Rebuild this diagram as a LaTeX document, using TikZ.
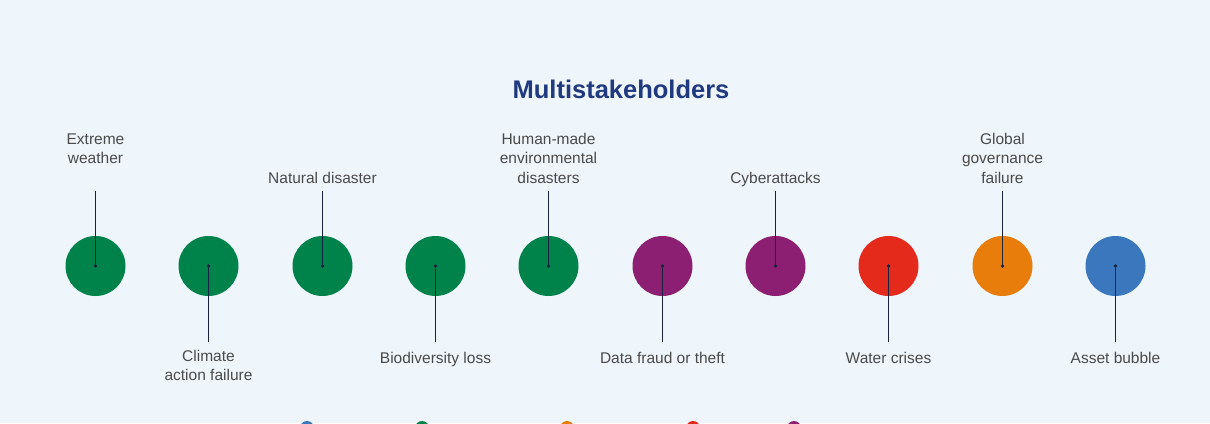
\documentclass[tikz,border=0pt]{standalone}
\usepackage{fontspec}
\setmainfont{Liberation Sans}
\usepackage{tikz}

\definecolor{bgblue}{HTML}{EEF5FB}
\definecolor{riskgreen}{HTML}{00834B}
\definecolor{riskpurple}{HTML}{8C1F71}
\definecolor{riskred}{HTML}{E42A1B}
\definecolor{riskorange}{HTML}{E87D0B}
\definecolor{riskblue}{HTML}{3A77BC}
\definecolor{titleblue}{HTML}{213A7F}
\definecolor{labelgray}{HTML}{4A4A4A}
\definecolor{pinline}{HTML}{1A2440}

\tikzset{
    risk/.style={circle, fill=#1, minimum size=60pt, inner sep=0pt},
    legenddot/.style={circle, fill=#1, minimum size=14pt, inner sep=0pt},
    lbl/.style={align=center, inner sep=0pt, text=labelgray,
        font=\fontsize{15.5}{19.7}\selectfont,
        execute at begin node=\strut, execute at end node=\strut},
    toplbl/.style={lbl, anchor=south, outer ysep=1.6pt},
    botlbl/.style={lbl, anchor=north, outer ysep=8pt},
    pin/.style={pinline, line width=1.2pt}
}

\begin{document}
\begin{tikzpicture}[x=1pt, y=-1pt]
            \useasboundingbox[fill=bgblue] (0,0) rectangle (1210,423);

            \node[text=titleblue, font=\fontsize{25.5}{30}\selectfont\bfseries] (title) at (621,89) {Multistakeholders};

            % risks
            \node[risk=riskgreen] (ew) at (95.5,266) {};
            \node[risk=riskgreen] (caf) at (208.5,266) {};
            \node[risk=riskgreen] (nd) at (322.5,266) {};
            \node[risk=riskgreen] (bl) at (435.5,266) {};
            \node[risk=riskgreen] (hmd) at (548.5,266) {};
            \node[risk=riskpurple] (dft) at (662.5,266) {};
            \node[risk=riskpurple] (ca) at (775.5,266) {};
            \node[risk=riskred] (wc) at (888.5,266) {};
            \node[risk=riskorange] (ggf) at (1002.5,266) {};
            \node[risk=riskblue] (ab) at (1115.5,266) {};

            % labels
            \node[toplbl] (ew-l) at (95.5,171.5) {Extreme\\weather};
            \coordinate (ew-top) at (95.5,191);
            \node[botlbl] (caf-l) at (208.5,342) {Climate\\action failure};
            \node[toplbl] (nd-l) at (322.5,191) {Natural disaster};
            \node[botlbl] (bl-l) at (435.5,342) {Biodiversity loss};
            \node[toplbl] (hmd-l) at (548.5,191) {Human-made\\environmental\\disasters};
            \node[botlbl] (dft-l) at (662.5,342) {Data fraud or theft};
            \node[toplbl] (ca-l) at (775.5,191) {Cyberattacks};
            \node[botlbl] (wc-l) at (888.5,342) {Water crises};
            \node[toplbl] (ggf-l) at (1002.5,191) {Global\\governance\\failure};
            \node[botlbl] (ab-l) at (1115.5,342) {Asset bubble};

            \draw[pin] (ew.center) -- (ew-top);
            \draw[pin] (caf.center) -- (caf-l);
            \draw[pin] (nd.center) -- (nd-l);
            \draw[pin] (bl.center) -- (bl-l);
            \draw[pin] (hmd.center) -- (hmd-l);
            \draw[pin] (dft.center) -- (dft-l);
            \draw[pin] (ca.center) -- (ca-l);
            \draw[pin] (wc.center) -- (wc-l);
            \draw[pin] (ggf.center) -- (ggf-l);
            \draw[pin] (ab.center) -- (ab-l);

            \fill[pinline] (ew) circle (1.9) (caf) circle (1.9) (nd) circle (1.9) (bl) circle (1.9) (hmd) circle (1.9);
            \fill[pinline] (dft) circle (1.9) (ca) circle (1.9) (wc) circle (1.9) (ggf) circle (1.9) (ab) circle (1.9);

            % legend, cut off at the bottom
            \node[legenddot=riskblue] (key-blue) at (307,428) {};
            \node[legenddot=riskgreen] (key-green) at (422,428) {};
            \node[legenddot=riskorange] (key-orange) at (567,428) {};
            \node[legenddot=riskred] (key-red) at (693,428) {};
            \node[legenddot=riskpurple] (key-purple) at (794,428) {};
        \end{tikzpicture}
\end{document}
